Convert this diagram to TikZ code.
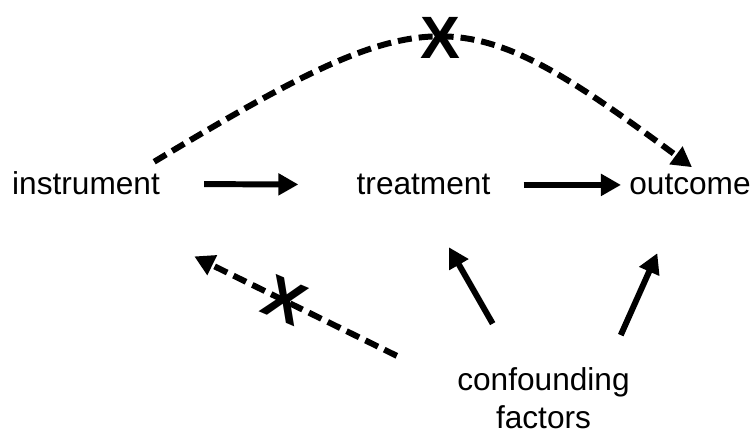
\documentclass[tikz,border=0pt]{standalone}
\usepackage{fontspec}
\setmainfont{Liberation Sans}
\usepackage{tikz}
\usetikzlibrary{arrows.meta,positioning,calc}
\tikzstyle{var} = [inner sep=0pt, text centered, font=\fontsize{18}{22}\selectfont]
\tikzstyle{cross} = [inner sep=0pt, font=\fontsize{34}{34}\selectfont\bfseries]
\tikzstyle{arrow} = [line width=3.4pt, -{Triangle[length=0.4cm,width=0.42cm]}]
\tikzstyle{dasharrow} = [arrow, dash pattern=on 0.28cm off 0.14cm]

\begin{document}
\begin{tikzpicture}
\useasboundingbox (0,0) rectangle (15.06,8.72);

% Variables
\node (inst) [var, anchor=base] at (1.72,4.82) {instrument};
\node (treat) [var, anchor=base] at (8.47,4.82) {treatment};
\node (outc) [var, anchor=base] at (13.80,4.82) {outcome};
\node (conf) [var, align=center, anchor=base] at (10.87,0.14) {confounding\\factors};

% Causal arrows
\draw [arrow, shorten <=0.88cm, shorten >=1.16cm] (inst) -- (treat);
\draw [arrow, shorten <=0.66cm, shorten >=0.16cm] (treat) -- (outc);
\draw [arrow, shorten <=1.0cm, shorten >=1.19cm] ([xshift=-0.52cm]conf.north) -- ([xshift=-0.08cm]treat.south);
\draw [arrow, shorten <=0.70cm, shorten >=1.26cm] ([xshift=1.26cm]conf.north) -- ([xshift=-0.14cm]outc.south);

% Excluded paths
\draw [dasharrow, shorten <=1.34cm, shorten >=0.76cm] ([yshift=0.26cm]conf.west) -- ([yshift=-0.88cm]inst.south east)
  node[cross, pos=0.58, rotate=-23] (cut1) {X};
\draw [dasharrow] ([shift={(-0.12,0.2)}]inst.north east) .. controls (8.64,8.82) and (9.20,8.80) .. ([shift={(0.04,0.14)}]outc.north)
  node[cross, pos=0.5] (cut2) {X};

\end{tikzpicture}
\end{document}
